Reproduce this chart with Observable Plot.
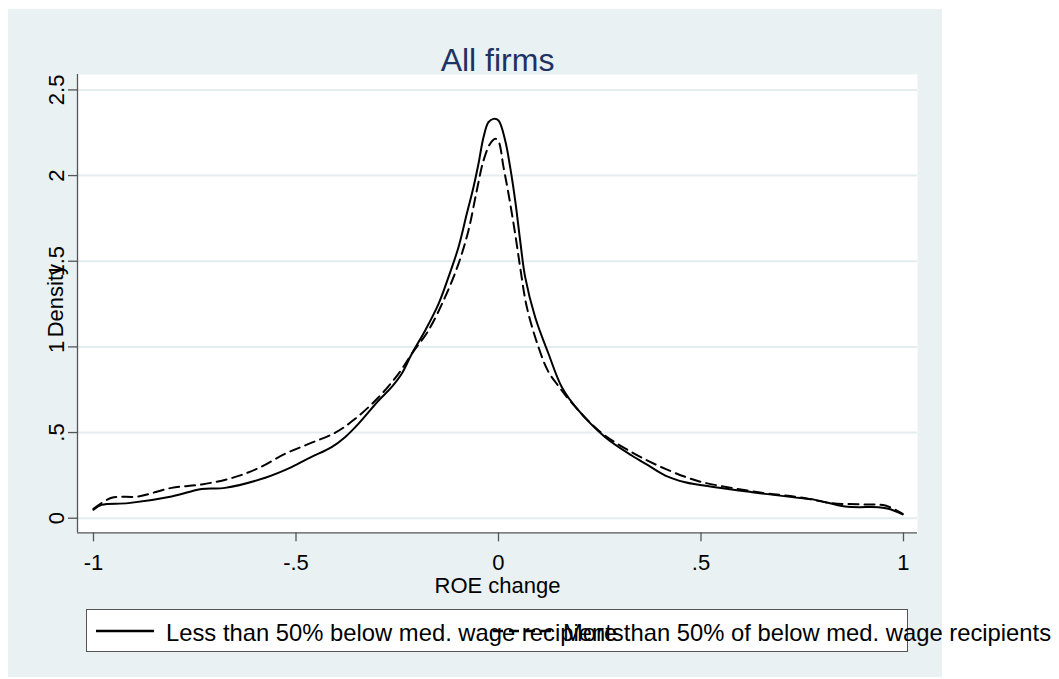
<!DOCTYPE html>
<html>
<head>
<meta charset="utf-8">
<script src="https://cdn.jsdelivr.net/npm/d3@7"></script>
<script src="https://cdn.jsdelivr.net/npm/@observablehq/plot@0.6"></script>
<style>
  html, body { margin: 0; padding: 0; background: #ffffff; }
  #page { position: relative; width: 1059px; height: 679px; font-family: "Liberation Sans", Arial, Helvetica, sans-serif; }
  #panel { position: absolute; left: 8px; top: 9px; width: 934px; height: 668px; background: #e9f1f3; }
  #chart { position: absolute; left: 0; top: 0; }
  #legendbox { position: absolute; left: 86px; top: 609px; width: 822px; height: 43px; box-sizing: border-box; border: 1px solid #555; background: #ffffff; }
  .ltext { position: absolute; font-size: 23.8px; line-height: 1; white-space: nowrap; color: #000; }
  .lkey { position: absolute; }
</style>
</head>
<body>
<div id="page">
  <div id="panel"></div>
  <div id="legendbox"></div>
  <div id="chart"></div>
  <div id="legend"></div>
</div>
<script>
// ---- data ----
const titleText = "All firms";
const xLabel = "ROE change";
const yLabel = "Density";
const seriesNames = [
  "Less than 50% below med. wage recipients",
  "More than 50% of below med. wage recipients"
];

// Solid series: Less than 50% below median wage recipients
const xSolid = [-1.0, -0.98, -0.914, -0.807, -0.733, -0.675, -0.576, -0.511, -0.464, -0.412, -0.379, -0.346, -0.296, -0.264, -0.239, -0.214, -0.181, -0.148, -0.1235, -0.0988, -0.0783, -0.0618, -0.0494, -0.037, -0.0247, -0.0124, 0.0, 0.0165, 0.0288, 0.0412, 0.0535, 0.0659, 0.0906, 0.1235, 0.1565, 0.1976, 0.2635, 0.329, 0.370, 0.412, 0.461, 0.535, 0.626, 0.725, 0.782, 0.856, 0.939, 0.963, 0.998];
const ySolid = [0.049, 0.078, 0.088, 0.127, 0.171, 0.177, 0.236, 0.298, 0.355, 0.415, 0.473, 0.551, 0.687, 0.765, 0.843, 0.960, 1.096, 1.251, 1.407, 1.582, 1.777, 1.932, 2.069, 2.224, 2.312, 2.331, 2.322, 2.205, 2.049, 1.855, 1.621, 1.407, 1.173, 0.960, 0.765, 0.629, 0.473, 0.366, 0.308, 0.249, 0.210, 0.181, 0.152, 0.123, 0.107, 0.068, 0.064, 0.055, 0.022];

// Dashed series: More than 50% of below median wage recipients
const xDash = [-1.0, -0.955, -0.889, -0.807, -0.733, -0.659, -0.593, -0.527, -0.464, -0.403, -0.354, -0.296, -0.247, -0.214, -0.173, -0.132, -0.0988, -0.0741, -0.0536, -0.037, -0.0206, -0.008, 0.0, 0.0124, 0.0247, 0.0412, 0.0535, 0.070, 0.0988, 0.122, 0.150, 0.175, 0.247, 0.329, 0.412, 0.494, 0.576, 0.659, 0.741, 0.823, 0.906, 0.955, 0.998];
const yDash = [0.055, 0.119, 0.127, 0.177, 0.197, 0.234, 0.292, 0.376, 0.438, 0.499, 0.580, 0.706, 0.843, 0.960, 1.096, 1.290, 1.485, 1.680, 1.913, 2.088, 2.186, 2.215, 2.200, 2.049, 1.894, 1.660, 1.465, 1.232, 0.998, 0.860, 0.765, 0.690, 0.512, 0.385, 0.288, 0.216, 0.177, 0.146, 0.123, 0.088, 0.080, 0.074, 0.026];

const xTicks = [-1, -0.5, 0, 0.5, 1];
const xTickLabels = ["-1", "-.5", "0", ".5", "1"];
const yTicks = [0, 0.5, 1, 1.5, 2, 2.5];
const yTickLabels = ["0", ".5", "1", "1.5", "2", "2.5"];

// ---- build tables ----
const solid = xSolid.map((x, i) => ({x, y: ySolid[i]}));
const dashed = xDash.map((x, i) => ({x, y: yDash[i]}));

const xDomain = [-1.0395, 1.0346];
const yDomain = [-0.0852, 2.590];
const axisColor = "#555555";

const chart = Plot.plot({
  width: 1059,
  height: 679,
  marginLeft: 77,
  marginRight: 142,
  marginTop: 74,
  marginBottom: 146.7,
  style: {background: "transparent", fontFamily: "\"Liberation Sans\", Arial, Helvetica, sans-serif", fontSize: "22px", color: "#000"},
  x: {domain: xDomain},
  y: {domain: yDomain},
  marks: [
    Plot.frame({fill: "#ffffff", stroke: null}),
    Plot.ruleY(yTicks, {stroke: "#e3ecee", strokeWidth: 2}),
    Plot.line(dashed, {x: "x", y: "y", stroke: "#000", strokeWidth: 2, strokeDasharray: "10,6", curve: "catmull-rom"}),
    Plot.line(solid, {x: "x", y: "y", stroke: "#000", strokeWidth: 2, curve: "catmull-rom"}),
    Plot.axisY(yTicks, {tickSize: 9, tickRotate: -90, tickPadding: 5, stroke: axisColor, strokeWidth: 1.3, label: null,
      tickFormat: d => yTickLabels[yTicks.indexOf(d)]}),
    Plot.axisX(xTicks, {tickSize: 9, tickPadding: 13, stroke: axisColor, strokeWidth: 1.3, label: null,
      tickFormat: d => xTickLabels[xTicks.indexOf(d)]}),
    Plot.ruleX([xDomain[0]], {stroke: axisColor, strokeWidth: 1.3}),
    Plot.ruleY([yDomain[0]], {stroke: axisColor, strokeWidth: 1.3}),
    Plot.text([yLabel], {text: d => d, frameAnchor: "left", dx: -22, dy: -3, rotate: -90, textAnchor: "middle", lineAnchor: "middle", fontSize: 22, fill: "#000"}),
    Plot.text([xLabel], {text: d => d, frameAnchor: "bottom", dy: 60, textAnchor: "middle", lineAnchor: "bottom", fontSize: 22, fill: "#000"}),
    Plot.text([titleText], {text: d => d, frameAnchor: "top", dy: -4, textAnchor: "middle", lineAnchor: "bottom", fontSize: 32, fill: "#1e3262"})
  ]
});
document.getElementById("chart").appendChild(chart);

// ---- legend (HTML + small inline SVG keys) ----
const legend = document.getElementById("legend");
const keyStyles = [null, "10,6"];
const keyX = [96, 493];
const textX = [166, 563];
seriesNames.forEach((name, i) => {
  const svgNS = "http://www.w3.org/2000/svg";
  const s = document.createElementNS(svgNS, "svg");
  s.setAttribute("width", 58);
  s.setAttribute("height", 6);
  s.setAttribute("class", "lkey");
  s.style.left = keyX[i] + "px";
  s.style.top = "628px";
  const l = document.createElementNS(svgNS, "line");
  l.setAttribute("x1", 0); l.setAttribute("x2", 58);
  l.setAttribute("y1", 3); l.setAttribute("y2", 3);
  l.setAttribute("stroke", "#000");
  l.setAttribute("stroke-width", 2.5);
  if (keyStyles[i]) l.setAttribute("stroke-dasharray", keyStyles[i]);
  s.appendChild(l);
  legend.appendChild(s);
  const t = document.createElement("div");
  t.className = "ltext";
  t.textContent = name;
  t.style.left = textX[i] + "px";
  t.style.top = "621px";
  legend.appendChild(t);
});
</script>
</body>
</html>
